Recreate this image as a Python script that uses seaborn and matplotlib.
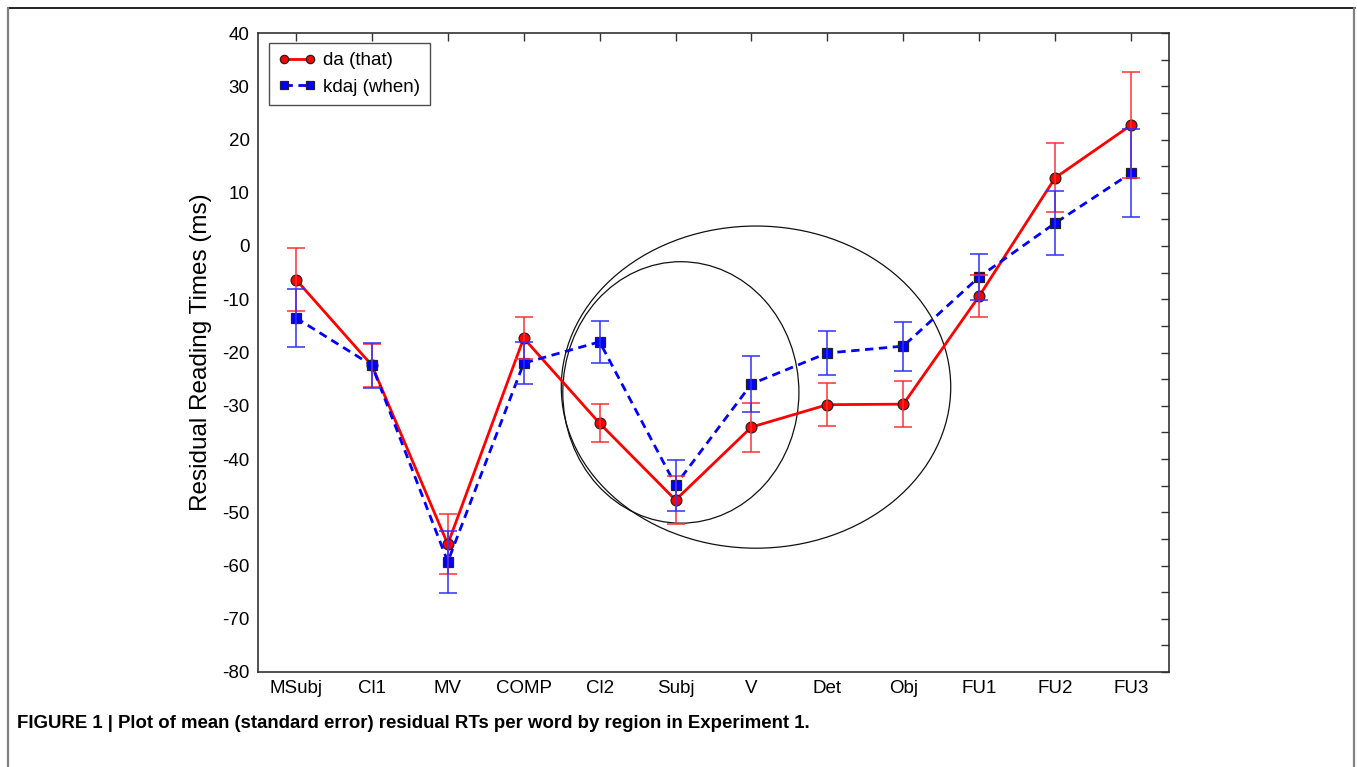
import pandas as pd
import numpy as np
import matplotlib
matplotlib.use("Agg")
import matplotlib.pyplot as plt
from matplotlib.patches import Ellipse
from matplotlib.lines import Line2D
import seaborn as sns

# Dane
regions = ["MSubj", "Cl1", "MV", "COMP", "Cl2", "Subj", "V", "Det", "Obj", "FU1", "FU2", "FU3"]
da_mean = [-6.3, -22.4, -56.0, -17.3, -33.3, -47.7, -34.0, -29.8, -29.7, -9.4, 12.8, 22.7]
da_se = [6.0, 4.0, 5.6, 4.0, 3.6, 4.5, 4.6, 4.0, 4.3, 4.0, 6.5, 10.0]
kdaj_mean = [-13.5, -22.4, -59.3, -22.0, -18.0, -44.9, -25.9, -20.1, -18.8, -5.8, 4.3, 13.7]
kdaj_se = [5.5, 4.2, 5.8, 4.0, 4.0, 4.8, 5.3, 4.2, 4.6, 4.3, 6.0, 8.3]
conditions = ["da (that)", "kdaj (when)"]

# Zaznaczone elipsy: (srodek x, srodek y, szerokosc, wysokosc) w jednostkach danych
circle_small = (5.07, -27.5, 3.11, 49.1)
circle_big = (6.06, -26.5, 5.13, 60.5)

caption = "FIGURE 1 | Plot of mean (standard error) residual RTs per word by region in Experiment 1."

df = pd.DataFrame({
    "region": regions * 2,
    "rt": da_mean + kdaj_mean,
    "cond": [conditions[0]] * len(regions) + [conditions[1]] * len(regions),
})

sns.set_style("white")
plt.rcParams["font.family"] = ["Liberation Sans", "DejaVu Sans"]
plt.rcParams["axes.unicode_minus"] = False
plt.rcParams["text.color"] = "black"
plt.rcParams["axes.labelcolor"] = "black"
plt.rcParams["xtick.color"] = "black"
plt.rcParams["ytick.color"] = "black"

fig = plt.figure(figsize=(13.57, 7.67), dpi=100)
ax = fig.add_axes([258 / 1357, 1 - 672 / 767, 911 / 1357, 639 / 767])

sns.lineplot(data=df, x="region", y="rt", hue="cond", style="cond",
             palette={conditions[0]: "#ff0000", conditions[1]: "#0000ff"},
             markers={conditions[0]: "o", conditions[1]: "s"},
             dashes={conditions[0]: "", conditions[1]: (3, 2)},
             linewidth=2.0, markeredgecolor="#222222", markeredgewidth=0.9,
             ax=ax, zorder=3)
for ln, ms in zip(ax.lines, [7.8, 7.2]):
    ln.set_markersize(ms)

x = np.arange(len(regions))
ax.errorbar(x, da_mean, yerr=da_se, fmt="none", ecolor="#ff3030", elinewidth=1.1,
            capsize=6.5, capthick=1.1, zorder=4)
ax.errorbar(x, kdaj_mean, yerr=kdaj_se, fmt="none", ecolor="#3030ff", elinewidth=1.1,
            capsize=6.5, capthick=1.1, zorder=4)

for cx, cy, w, h in [circle_small, circle_big]:
    ax.add_patch(Ellipse((cx, cy), w, h, fill=False, edgecolor="#111111", lw=0.9, zorder=2))

ax.set_xlim(-0.5, len(regions) - 0.5)
ax.set_ylim(-80, 40)
ax.set_yticks(np.arange(-80, 41, 10))
ax.set_yticks(np.arange(-75, 40, 10), minor=True)
ax.set_xlabel("")
ax.set_ylabel("Residual Reading Times (ms)", fontsize=17.5)
ax.yaxis.set_label_coords(-0.051, 0.5)

ax.tick_params(axis="both", which="both", direction="in", top=True, right=True,
               length=6, width=1.0, color="#333333", labelsize=13.5, pad=6)
ax.tick_params(axis="y", which="minor", length=6)
for sp in ax.spines.values():
    sp.set_linewidth(1.2)
    sp.set_color("#333333")

leg = ax.legend(loc="upper left", bbox_to_anchor=(0.012, 0.985), numpoints=2,
                handlelength=2.0, fontsize=13.5, frameon=True, fancybox=False,
                borderpad=0.5, labelspacing=0.5, handletextpad=0.4,
                borderaxespad=0.0)
leg.get_frame().set_edgecolor("#222222")
leg.get_frame().set_linewidth(1.0)

# Ramka strony
fig.add_artist(Line2D([8 / 1357, 1355 / 1357], [1 - 8 / 767] * 2, transform=fig.transFigure,
                      color="#222222", lw=1.4))
fig.add_artist(Line2D([8 / 1357] * 2, [0, 1 - 8 / 767], transform=fig.transFigure,
                      color="#808080", lw=1.6))
fig.add_artist(Line2D([1354 / 1357] * 2, [0, 1 - 8 / 767], transform=fig.transFigure,
                      color="#808080", lw=1.6))

fig.text(17 / 1357, 1 - 723 / 767, caption, fontsize=13.4, fontweight="bold",
         ha="left", va="center")

fig.savefig("out.png", dpi=100)
